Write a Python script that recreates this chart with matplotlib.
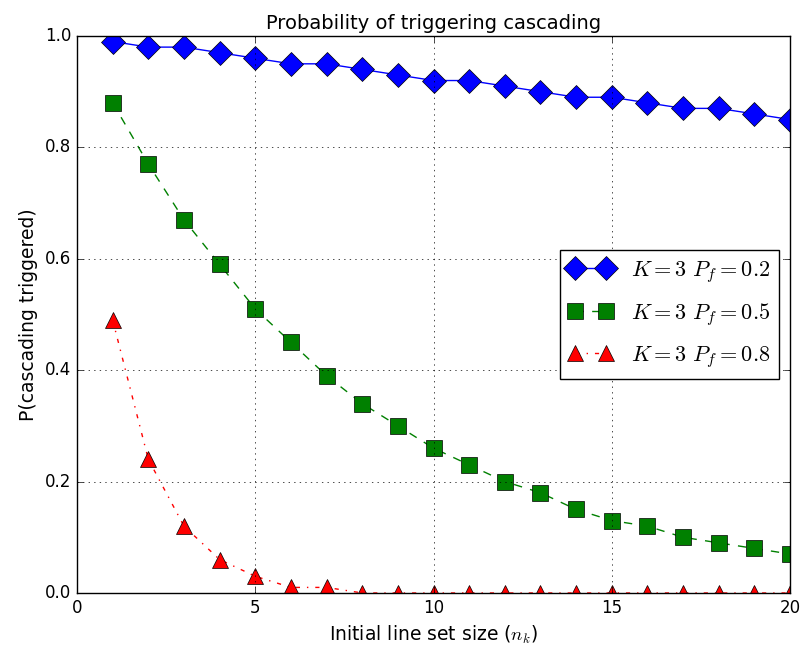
import matplotlib
matplotlib.use("Agg")
import matplotlib.pyplot as plt

plt.style.use("classic")

# initial line set size
n_k = list(range(1, 21))

# P(cascading triggered) for K=3 and different failure probabilities
p_02 = [0.99, 0.98, 0.98, 0.97, 0.96, 0.95, 0.95, 0.94, 0.93, 0.92,
        0.92, 0.91, 0.90, 0.89, 0.89, 0.88, 0.87, 0.87, 0.86, 0.85]
p_05 = [0.88, 0.77, 0.67, 0.59, 0.51, 0.45, 0.39, 0.34, 0.30, 0.26,
        0.23, 0.20, 0.18, 0.15, 0.13, 0.12, 0.10, 0.09, 0.08, 0.07]
p_08 = [0.49, 0.24, 0.12, 0.06, 0.03, 0.01, 0.01, 0.0, 0.0, 0.0,
        0.0, 0.0, 0.0, 0.0, 0.0, 0.0, 0.0, 0.0, 0.0, 0.0]

fig = plt.figure(figsize=(8.04, 6.54), dpi=100, facecolor="white")
ax = fig.add_axes([0.0958, 0.0933, 0.8868, 0.8517])

ax.plot(n_k, p_02, "b-", marker="D", markersize=12, label=r"$K=3\ P_f=0.2$")
ax.plot(n_k, p_05, "g--", marker="s", markersize=12, label=r"$K=3\ P_f=0.5$")
ax.plot(n_k, p_08, "r-.", marker="^", markersize=12, label=r"$K=3\ P_f=0.8$")

ax.set_xlim(0, 20)
ax.set_ylim(0, 1)
ax.set_xticks([0, 5, 10, 15, 20])
ax.set_yticks([0.0, 0.2, 0.4, 0.6, 0.8, 1.0])
ax.grid(True)

ax.set_title("Probability of triggering cascading", fontsize=14)
ax.set_xlabel(r"Initial line set size ($n_k$)", fontsize=13.5)
ax.set_ylabel("P(cascading triggered)", fontsize=13.5)
ax.legend(loc="center right", fontsize=16, labelspacing=0.72)

fig.savefig("out.png", dpi=100, facecolor="white")
